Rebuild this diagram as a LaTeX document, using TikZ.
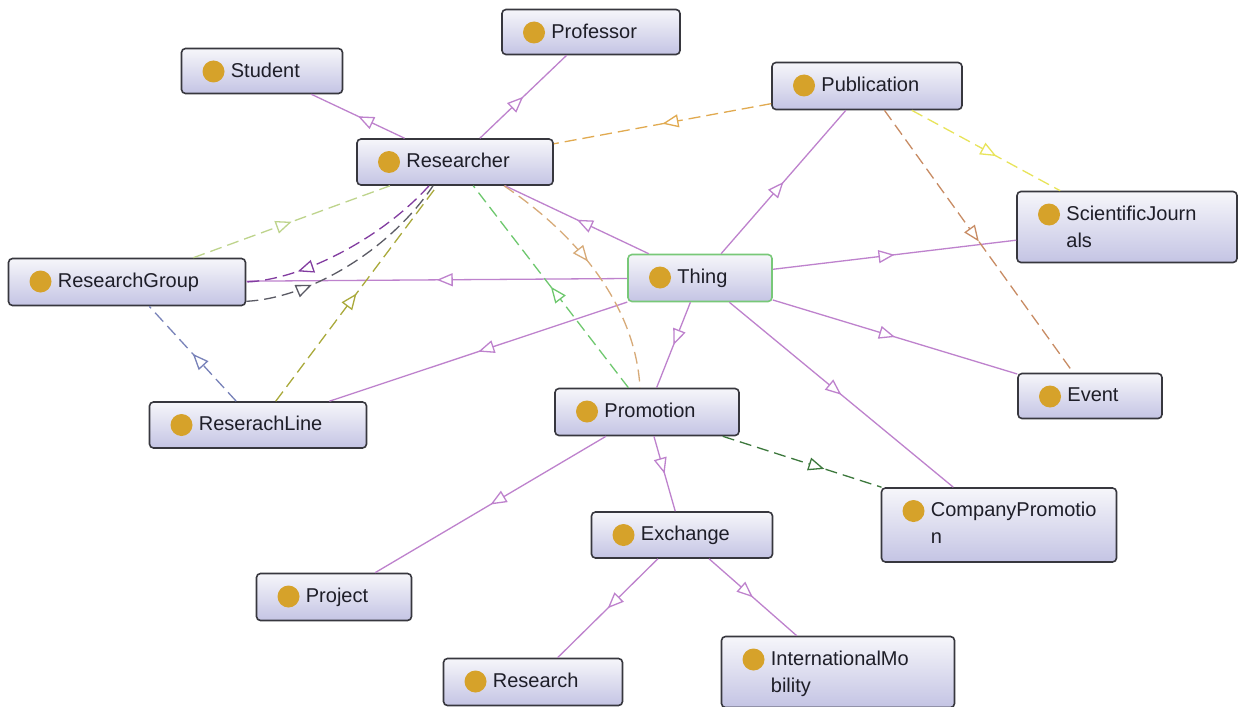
\documentclass[tikz,border=0pt]{standalone}
\usepackage{fontspec}
\setmainfont{Liberation Sans}
\usetikzlibrary{arrows.meta,decorations.markings}

\definecolor{boxline}{RGB}{55,55,62}
\definecolor{boxtop}{RGB}{246,246,250}
\definecolor{boxbot}{RGB}{196,196,228}
\definecolor{thingline}{RGB}{120,200,120}
\definecolor{dotc}{RGB}{214,162,42}
\definecolor{txtc}{RGB}{30,30,40}
\definecolor{isac}{RGB}{190,130,205}
\definecolor{orc}{RGB}{225,170,80}
\definecolor{yelc}{RGB}{232,228,90}
\definecolor{brnc}{RGB}{200,140,100}
\definecolor{dgrc}{RGB}{60,120,60}
\definecolor{lgrc}{RGB}{190,212,140}
\definecolor{purc}{RGB}{130,60,160}
\definecolor{gryc}{RGB}{90,90,100}
\definecolor{bluc}{RGB}{120,130,185}
\definecolor{olvc}{RGB}{170,170,60}
\definecolor{grnc}{RGB}{110,200,110}
\definecolor{tanc}{RGB}{215,170,120}

\tikzset{
  cls/.style={draw=boxline, line width=1.6pt, rounded corners=4pt,
    top color=boxtop, bottom color=boxbot, inner sep=0pt,
    path picture={\fill[dotc] ([xshift=32pt,yshift=-23pt]path picture bounding box.north west) circle (11pt);}},
  root/.style={cls, draw=thingline},
  txt/.style={anchor=north west, inner sep=0pt, text=txtc, align=left,
    font=\fontsize{20}{27}\selectfont},
  midtip/.style={postaction={decorate, decoration={markings,
    mark=at position #1 with {\arrow{Triangle[length=16pt,width=13pt,fill=white]}}}}},
  midtip/.default=0.5,
  isa/.style={draw=isac, line width=1.3pt, midtip},
  rel/.style={line width=1.3pt, dash pattern=on 12pt off 6pt},
}

\begin{document}
\begin{tikzpicture}[x=1pt,y=-1pt]
		\fill[white] (0,0) rectangle (1238,706);
		\useasboundingbox (0,0) rectangle (1238,706);
		% classes
		\node[cls, minimum width=178pt, minimum height=45pt] (professor) at (591,32) {};
		\node[cls, minimum width=161pt, minimum height=45pt] (student) at (262,71) {};
		\node[cls, minimum width=190pt, minimum height=47pt] (publication) at (867,86) {};
		\node[cls, minimum width=196pt, minimum height=46pt] (researcher) at (455,162) {};
		\node[cls, minimum width=220pt, minimum height=71pt] (journals) at (1127,227) {};
		\node[cls, minimum width=237pt, minimum height=47pt] (rgroup) at (127,282) {};
		\node[root, minimum width=144pt, minimum height=47pt] (thing) at (700,278) {};
		\node[cls, minimum width=217pt, minimum height=46pt] (rline) at (258,425) {};
		\node[cls, minimum width=184pt, minimum height=47pt] (promotion) at (647,412) {};
		\node[cls, minimum width=144pt, minimum height=45pt] (event) at (1090,396) {};
		\node[cls, minimum width=235pt, minimum height=74pt] (cpromotion) at (999,525) {};
		\node[cls, minimum width=181pt, minimum height=46pt] (exchange) at (682,535) {};
		\node[cls, minimum width=155pt, minimum height=47pt] (project) at (334,597) {};
		\node[cls, minimum width=179pt, minimum height=47pt] (research) at (533,682) {};
		\node[cls, minimum width=233pt, minimum height=71pt] (mobility) at (838,672) {};
		% labels
		\node[txt] (professor-t) at ([xshift=50pt,yshift=-15pt]professor.north west) {Professor};
		\node[txt] (student-t) at ([xshift=50pt,yshift=-15pt]student.north west) {Student};
		\node[txt] (publication-t) at ([xshift=50pt,yshift=-15pt]publication.north west) {Publication};
		\node[txt] (researcher-t) at ([xshift=50pt,yshift=-15pt]researcher.north west) {Researcher};
		\node[txt] (journals-t) at ([xshift=50pt,yshift=-15pt]journals.north west) {ScientificJourn\\als};
		\node[txt] (rgroup-t) at ([xshift=50pt,yshift=-15pt]rgroup.north west) {ResearchGroup};
		\node[txt] (thing-t) at ([xshift=50pt,yshift=-15pt]thing.north west) {Thing};
		\node[txt] (rline-t) at ([xshift=50pt,yshift=-15pt]rline.north west) {ReserachLine};
		\node[txt] (promotion-t) at ([xshift=50pt,yshift=-15pt]promotion.north west) {Promotion};
		\node[txt] (event-t) at ([xshift=50pt,yshift=-15pt]event.north west) {Event};
		\node[txt] (cpromotion-t) at ([xshift=50pt,yshift=-15pt]cpromotion.north west) {CompanyPromotio\\n};
		\node[txt] (exchange-t) at ([xshift=50pt,yshift=-15pt]exchange.north west) {Exchange};
		\node[txt] (project-t) at ([xshift=50pt,yshift=-15pt]project.north west) {Project};
		\node[txt] (research-t) at ([xshift=50pt,yshift=-15pt]research.north west) {Research};
		\node[txt] (mobility-t) at ([xshift=50pt,yshift=-15pt]mobility.north west) {InternationalMo\\bility};
		% subclass edges
		\draw[isa] (researcher) -- (student);
		\draw[isa] (researcher) -- (professor);
		\draw[isa] (thing) -- (researcher);
		\draw[isa] (thing) -- (rgroup);
		\draw[isa] (thing) -- (rline);
		\draw[isa] (thing) -- (publication);
		\draw[isa] (thing) -- (journals);
		\draw[isa] (thing) -- (event);
		\draw[isa] (thing) -- (cpromotion);
		\draw[isa] (thing) -- (promotion);
		\draw[isa] (promotion) -- (exchange);
		\draw[isa] (promotion) -- (project);
		\draw[isa] (exchange) -- (research);
		\draw[isa] (exchange) -- (mobility);
		% object properties
		\draw[rel, draw=orc, midtip] (publication) -- (researcher);
		\draw[rel, draw=yelc, midtip=0.57] (publication) -- (journals);
		\draw[rel, draw=brnc, midtip] (publication) -- (event);
		\draw[rel, draw=dgrc, midtip=0.64] (promotion) -- (cpromotion);
		\draw[rel, draw=lgrc, midtip] (rgroup) -- (researcher);
		\draw[rel, draw=purc, midtip=0.75] ([xshift=-26pt]researcher.south) .. controls (380,240) and (300,280) .. (rgroup.east);
		\draw[rel, draw=gryc, midtip=0.3] ([yshift=5pt]rgroup.south east) .. controls (310,298) and (390,250) .. ([xshift=-22pt]researcher.south);
		\draw[rel, draw=bluc, midtip] (rline) -- (rgroup);
		\draw[rel, draw=olvc, midtip] (rline) -- (researcher);
		\draw[rel, draw=grnc, midtip] (promotion) -- (researcher);
		\draw[rel, draw=tanc, midtip=0.45] ([xshift=49pt]researcher.south) .. controls (570,230) and (635,300) .. ([xshift=-7pt]promotion.north);
\end{tikzpicture}
\end{document}
